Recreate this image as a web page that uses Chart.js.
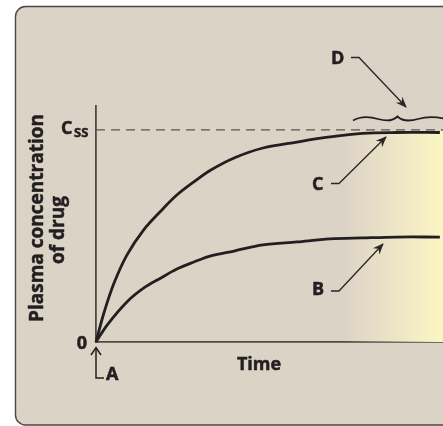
<!DOCTYPE html>
<html><head><meta charset="utf-8">
<script src="https://cdn.jsdelivr.net/npm/chart.js@4"></script>
<style>html,body{margin:0;padding:0;background:#fff;}canvas{display:block;}</style>
</head><body>
<canvas id="c" width="443" height="426"></canvas>
<script>
// ---- data ----
const timeC = [0, 0.23, 0.52, 0.89, 1.38, 1.87, 2.33, 2.82, 3.31, 3.98, 4.81, 5.79, 6.74, 7.69, 8.67, 9.91];
const concC = [0, 13.8, 27.8, 41.0, 53.0, 61.8, 69.3, 75.5, 81.1, 86.8, 91.5, 94.3, 96.7, 98.4, 98.8, 98.8];
const timeB = [0, 0.32, 0.89, 1.38, 1.87, 2.33, 2.82, 3.31, 3.98, 4.81, 5.79, 6.74, 7.69, 8.67, 9.91];
const concB = [0, 8.0, 18.9, 25.5, 30.2, 34.4, 37.7, 40.6, 42.9, 45.8, 47.2, 48.6, 49.1, 49.5, 49.5];
const cssLevel = 100;
const timeRange = [0, 10];
const concRange = [0, 111.3];
const zeroLabel = '0';
const cssLabelMain = 'C';
const cssLabelSub = 'SS';
const xTitle = 'Time';
const yTitle = ['Plasma concentration', 'of drug'];
const calloutLabels = { A: 'A', B: 'B', C: 'C', D: 'D' };

const FONT = '"Open Sans", "DejaVu Sans", sans-serif';
const INK = '#231f20';

function toXY(xs, ys) { return xs.map((x, i) => ({ x: x, y: ys[i] })); }

function arrow(ctx, pts, color, lw) {
  ctx.save();
  ctx.strokeStyle = color; ctx.fillStyle = color; ctx.lineWidth = lw;
  ctx.lineJoin = 'miter';
  ctx.beginPath();
  ctx.moveTo(pts[0][0], pts[0][1]);
  for (let i = 1; i < pts.length; i++) ctx.lineTo(pts[i][0], pts[i][1]);
  ctx.stroke();
  const [x0, y0] = pts[pts.length - 2];
  const [x1, y1] = pts[pts.length - 1];
  const a = Math.atan2(y1 - y0, x1 - x0);
  const L = 10, W = 4.5, N = 6.5;
  ctx.translate(x1, y1); ctx.rotate(a);
  ctx.beginPath();
  ctx.moveTo(1, 0);
  ctx.lineTo(-L, -W);
  ctx.lineTo(-N, 0);
  ctx.lineTo(-L, W);
  ctx.closePath();
  ctx.fill();
  ctx.restore();
}

const decor = {
  id: 'decor',
  beforeDraw(chart) {
    const ctx = chart.ctx;
    ctx.save();
    ctx.fillStyle = '#ffffff';
    ctx.fillRect(0, 0, chart.width, chart.height);
    const x = 15.5, y = 6.5, w = 460, h = 418.5, r = 10;
    ctx.beginPath();
    ctx.moveTo(x + r, y);
    ctx.lineTo(x + w, y);
    ctx.lineTo(x + w, y + h);
    ctx.lineTo(x + r, y + h);
    ctx.arcTo(x, y + h, x, y + h - r, r);
    ctx.lineTo(x, y + r);
    ctx.arcTo(x, y, x + r, y, r);
    ctx.closePath();
    ctx.fillStyle = '#dcd3c7';
    ctx.fill();
    ctx.lineWidth = 1.4;
    ctx.strokeStyle = '#4a4644';
    ctx.stroke();
    ctx.restore();
  },
  beforeDatasetsDraw(chart) {
    const ctx = chart.ctx, ys = chart.scales.y, a = chart.chartArea;
    const top = ys.getPixelForValue(cssLevel) + 1;
    const bottom = ys.getPixelForValue(0);
    const g = ctx.createLinearGradient(343, 0, 440, 0);
    g.addColorStop(0, 'rgba(251,245,196,0)');
    g.addColorStop(1, 'rgba(251,245,196,1)');
    ctx.save();
    ctx.fillStyle = g;
    ctx.fillRect(343, top, a.right - 343, bottom - top);
    ctx.restore();
  },
  afterDraw(chart) {
    const ctx = chart.ctx, xs = chart.scales.x, ys = chart.scales.y;
    const x0 = xs.getPixelForValue(0), y0 = ys.getPixelForValue(0), yc = ys.getPixelForValue(cssLevel);
    ctx.save();
    ctx.fillStyle = INK;
    ctx.strokeStyle = INK;
    ctx.lineWidth = 0.5;
    ctx.textBaseline = 'alphabetic';
    const txt = (s, x, y) => { ctx.fillText(s, x, y); ctx.strokeText(s, x, y); };
    ctx.font = 'bold 18px ' + FONT;
    ctx.textAlign = 'right';
    txt(zeroLabel, x0 - 9, y0 + 6.5);
    ctx.textAlign = 'left';
    txt(cssLabelMain, 61, yc + 4);
    ctx.font = 'bold 13px ' + FONT;
    txt(cssLabelSub, 74, yc + 7);
    ctx.font = 'bold 18px ' + FONT;
    ctx.textAlign = 'center';
    txt(xTitle, 259, 370);
    ctx.font = 'bold 19px ' + FONT;
    ctx.save();
    ctx.translate(42.5, 218); ctx.rotate(-Math.PI / 2);
    txt(yTitle[0], 0, 0);
    ctx.restore();
    ctx.save();
    ctx.translate(63.5, 230); ctx.rotate(-Math.PI / 2);
    txt(yTitle[1], 0, 0);
    ctx.restore();
    ctx.font = 'bold 18px ' + FONT;
    ctx.textAlign = 'left';
    txt(calloutLabels.D, 331, 64);
    txt(calloutLabels.C, 312, 190);
    txt(calloutLabels.B, 312, 295);
    txt(calloutLabels.A, 106, 380);
    ctx.restore();

    ctx.save();
    ctx.lineCap = 'butt';
    ctx.strokeStyle = INK; ctx.lineWidth = 1.5;
    ctx.beginPath();
    ctx.moveTo(104, 378); ctx.lineTo(x0, 378); ctx.lineTo(x0, y0 + 6);
    ctx.stroke();
    ctx.beginPath();
    ctx.moveTo(x0 - 5, y0 + 13); ctx.lineTo(x0, y0 + 5.5); ctx.lineTo(x0 + 5, y0 + 13);
    ctx.stroke();
    ctx.restore();
    arrow(ctx, [[351, 57.5], [359, 57.5], [406, 107]], '#2a2627', 1.3);
    arrow(ctx, [[331, 183.5], [339, 183.5], [386, 137]], '#2a2627', 1.3);
    arrow(ctx, [[331, 291], [339, 291], [383, 244]], '#2a2627', 1.3);
    ctx.save();
    ctx.strokeStyle = INK; ctx.lineWidth = 1.8;
    ctx.beginPath();
    ctx.moveTo(353, 120.5);
    ctx.bezierCurveTo(360, 116.5, 368, 116, 378, 119);
    ctx.bezierCurveTo(387, 121.5, 393, 121, 397.5, 116.5);
    ctx.bezierCurveTo(402, 121, 409, 121.5, 418, 119);
    ctx.bezierCurveTo(428, 116, 436, 116.5, 446, 119);
    ctx.stroke();
    ctx.restore();
  }
};

new Chart(document.getElementById('c'), {
  type: 'line',
  data: {
    datasets: [
      { label: 'Css', data: [{ x: timeRange[0], y: cssLevel }, { x: timeRange[1], y: cssLevel }],
        borderColor: '#5a5552', borderWidth: 1.3, borderDash: [9, 6], pointRadius: 0, fill: false, tension: 0 },
      { label: 'C', data: toXY(timeC, concC), borderColor: INK, borderWidth: 2.8,
        pointRadius: 0, fill: false, tension: 0.35, clip: false },
      { label: 'B', data: toXY(timeB, concB), borderColor: INK, borderWidth: 2.8,
        pointRadius: 0, fill: false, tension: 0.35, clip: false }
    ]
  },
  options: {
    responsive: false, animation: false, devicePixelRatio: 1,
    layout: { padding: { left: 96, top: 106, right: 0, bottom: 84 } },
    plugins: { legend: { display: false }, tooltip: { enabled: false } },
    scales: {
      x: { type: 'linear', min: timeRange[0], max: timeRange[1],
        ticks: { display: false }, grid: { display: false, drawTicks: false },
        border: { display: true, color: '#4f4a46', width: 1.8 },
        afterFit: s => { s.height = 0; } },
      y: { type: 'linear', min: concRange[0], max: concRange[1],
        ticks: { display: false }, grid: { display: false, drawTicks: false },
        border: { display: true, color: '#4f4a46', width: 1.8 },
        afterFit: s => { s.width = 0; } }
    }
  },
  plugins: [decor]
});
</script>
</body></html>
